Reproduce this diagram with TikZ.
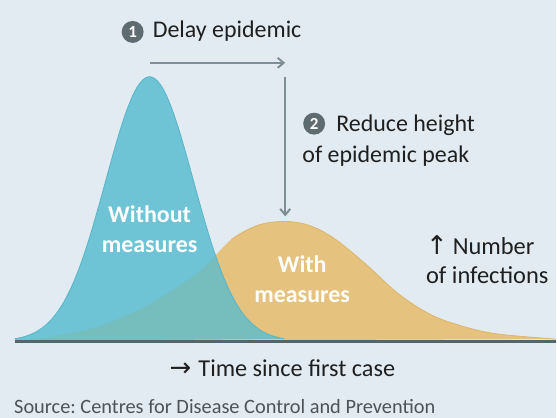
\documentclass[tikz,border=0pt]{standalone}
\usepackage{fontspec}
\setmainfont{Carlito}
\newfontfamily\arrowfont{DejaVu Sans}
\usetikzlibrary{arrows.meta}
\frenchspacing

\definecolor{bgcol}{HTML}{E2EBF2}
\definecolor{bluefill}{HTML}{6EC3D4}
\definecolor{blueedge}{HTML}{58B6C8}
\definecolor{orangefill}{HTML}{E5C27D}
\definecolor{orangeedge}{HTML}{DDB66C}
\definecolor{overlapfill}{HTML}{76BDBE}
\definecolor{arrowgray}{HTML}{7E8E97}
\definecolor{badgegray}{HTML}{5E6B71}
\definecolor{axisgray}{HTML}{55666B}
\definecolor{sourcegray}{HTML}{4E5358}

% curves in pixel units, y down
\newcommand\curvenomeasures{(15,342) -- plot[domain=15:285,samples=120]
  (\x,{342-265*exp(-0.5*((\x-150)/44)^2)}) -- cycle}
\newcommand\curvemeasures{plot[smooth,tension=0.55] coordinates {(15,342)
  (50,338) (100,327) (150,305) (200,272) (232,240) (258,226) (285,222)
  (310,226) (335,239) (367,265) (400,295) (433,316) (467,328) (500,335)
  (557,340)} -- cycle}

\begin{document}
\begin{tikzpicture}[x=1pt,y=-1pt,
    label/.style={font=\fontsize{24}{30}\selectfont,inner sep=0pt,text=black!88},
    inlabel/.style={font=\fontsize{24}{30}\selectfont\bfseries,text=white,
      align=center,inner sep=0pt},
    badge/.style={circle,fill=badgegray,text=white,inner sep=0pt,
      minimum size=22pt,font=\fontsize{17}{17}\selectfont\bfseries},
    guide/.style={draw=arrowgray,line width=2pt,
      -{Straight Barb[length=6pt,width=10pt]}}]

    % Background
    \fill[bgcol] (0,0) rectangle (557,419);

    % Curves
    \fill[orangefill] \curvemeasures;
    \draw[orangeedge,line width=0.8pt] plot[smooth,tension=0.55] coordinates {
      (232,240) (258,226) (285,222) (310,226) (335,239) (367,265) (400,295)
      (433,316) (467,328) (500,335) (557,340)};
    \fill[bluefill] \curvenomeasures;
    \begin{scope}
      \clip \curvenomeasures;
      \fill[overlapfill] \curvemeasures;
    \end{scope}
    \draw[blueedge,line width=0.8pt] plot[domain=15:285,samples=120]
      (\x,{342-265*exp(-0.5*((\x-150)/44)^2)});

    % Time axis
    \coordinate (axisstart) at (15,342);
    \coordinate (axisend) at (557,342);
    \draw[axisgray,line width=3pt] (axisstart) -- (axisend);

    % Guide arrows
    \coordinate (oldpeak) at (150,63);
    \coordinate (corner) at (286,63);
    \coordinate (droptop) at (286,77);
    \coordinate (newpeak) at (286,217);
    \draw[guide] (oldpeak) -- (corner);
    \draw[guide] (droptop) -- (newpeak);

    % Step 1
    \node[badge] (one) at (133,32) {1};
    \node[label,anchor=base west] (delay) at (153,38) {Delay epidemic};

    % Step 2
    \node[badge] (two) at (315,124) {2};
    \node[label,anchor=base west] (reduce) at (337,132) {Reduce height};
    \node[label,anchor=base west] (peak) at (303,163) {of epidemic peak};

    % Curve labels (base = last line)
    \node[inlabel,anchor=base] (without) at (150,253) {Without\\measures};
    \node[inlabel,anchor=base] (with) at (303,303) {With\\measures};

    % Axis labels
    \node[label,anchor=base west,align=left,font=\fontsize{24.5}{29}\selectfont]
      (number) at (427,284)
      {{\arrowfont\fontsize{26}{29}\selectfont↑}\hspace{5pt}Number\\of infections};
    \node[label,anchor=base west,font=\fontsize{24.3}{28}\selectfont] (time)
      at (170,378)
      {{\arrowfont\fontsize{26}{28}\selectfont→}\hspace{7pt}Time since first case};
    \node[label,anchor=base west,text=sourcegray,
      font=\fontsize{20.4}{24}\selectfont] (source) at (14,415)
      {Source: Centres for Disease Control and Prevention};

\end{tikzpicture}
\end{document}
